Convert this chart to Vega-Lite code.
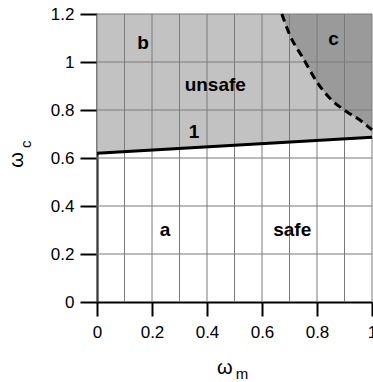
{
  "$schema": "https://vega.github.io/schema/vega-lite/v6.json",
  "width": 275,
  "height": 288,
  "autosize": {"type": "none"},
  "padding": {"left": 97, "top": 14, "right": 1, "bottom": 80},
  "background": "white",
  "config": {
    "view": {"stroke": null},
    "font": "Liberation Sans",
    "axis": {
      "grid": false, "domainColor": "black", "domainWidth": 2,
      "tickColor": "black", "tickWidth": 2,
      "labelFontSize": 17, "labelColor": "black", "labelOverlap": false
    }
  },
  "datasets": {
    "boundary": [
      {"wm": 0, "wc": 0.62},
      {"wm": 1, "wc": 0.686}
    ],
    "curve": [
      {"wm": 0.672, "wc": 1.2},
      {"wm": 0.702, "wc": 1.11},
      {"wm": 0.75, "wc": 1.015},
      {"wm": 0.799, "wc": 0.918},
      {"wm": 0.853, "wc": 0.842},
      {"wm": 0.908, "wc": 0.793},
      {"wm": 0.956, "wc": 0.758},
      {"wm": 1.0, "wc": 0.717}
    ],
    "gridx": [
      {"v": 0}, {"v": 0.1}, {"v": 0.2}, {"v": 0.3}, {"v": 0.4}, {"v": 0.5},
      {"v": 0.6}, {"v": 0.7}, {"v": 0.8}, {"v": 0.9}, {"v": 1.0}
    ],
    "gridy": [
      {"v": 0.2}, {"v": 0.4}, {"v": 0.6}, {"v": 0.8}, {"v": 1.0}, {"v": 1.2}
    ],
    "labels": [
      {"wm": 0.167, "wc": 1.08, "t": "b"},
      {"wm": 0.43, "wc": 0.905, "t": "unsafe"},
      {"wm": 0.353, "wc": 0.71, "t": "1"},
      {"wm": 0.86, "wc": 1.095, "t": "c"},
      {"wm": 0.247, "wc": 0.3, "t": "a"},
      {"wm": 0.71, "wc": 0.3, "t": "safe"}
    ]
  },
  "layer": [
    {
      "data": {"name": "boundary"},
      "mark": {"type": "area", "color": "#c2c2c2"},
      "encoding": {
        "x": {
          "field": "wm", "type": "quantitative", "title": null,
          "scale": {"domain": [0, 1], "nice": false, "zero": false},
          "axis": {
            "values": [0, 0.1, 0.2, 0.3, 0.4, 0.5, 0.6, 0.7, 0.8, 0.9, 1],
            "format": ".1~f",
            "labelExpr": "indexof(['0','0.2','0.4','0.6','0.8','1'], datum.label) >= 0 ? datum.label : ''",
            "tickSize": 14, "labelPadding": 8,
            "labelFlush": false, "labelBound": false
          }
        },
        "y": {
          "field": "wc", "type": "quantitative", "title": null,
          "scale": {"domain": [0, 1.2], "nice": false, "zero": false},
          "axis": {
            "values": [0, 0.2, 0.4, 0.6, 0.8, 1, 1.2],
            "format": ".1~f",
            "tickSize": 17, "labelPadding": 6
          }
        },
        "y2": {"datum": 1.2}
      }
    },
    {
      "data": {"name": "curve"},
      "mark": {"type": "area", "color": "#9a9a9a", "interpolate": "monotone"},
      "encoding": {
        "x": {"field": "wm", "type": "quantitative", "title": null},
        "y": {"field": "wc", "type": "quantitative", "title": null},
        "y2": {"datum": 1.2}
      }
    },
    {
      "data": {"name": "gridx"},
      "mark": {"type": "rule", "color": "#7a7a7a", "strokeWidth": 1},
      "encoding": {
        "x": {"field": "v", "type": "quantitative", "title": null}
      }
    },
    {
      "data": {"name": "gridy"},
      "mark": {"type": "rule", "color": "#7a7a7a", "strokeWidth": 1},
      "encoding": {
        "y": {"field": "v", "type": "quantitative", "title": null}
      }
    },
    {
      "data": {"name": "boundary"},
      "mark": {"type": "line", "color": "black", "strokeWidth": 3},
      "encoding": {
        "x": {"field": "wm", "type": "quantitative", "title": null},
        "y": {"field": "wc", "type": "quantitative", "title": null}
      }
    },
    {
      "data": {"name": "curve"},
      "mark": {"type": "line", "color": "black", "strokeWidth": 3, "strokeDash": [8, 5], "interpolate": "monotone"},
      "encoding": {
        "x": {"field": "wm", "type": "quantitative", "title": null},
        "y": {"field": "wc", "type": "quantitative", "title": null}
      }
    },
    {
      "data": {"name": "labels"},
      "mark": {"type": "text", "fontSize": 19, "fontWeight": "bold", "color": "black", "align": "center", "baseline": "middle"},
      "encoding": {
        "x": {"field": "wm", "type": "quantitative", "title": null},
        "y": {"field": "wc", "type": "quantitative", "title": null},
        "text": {"field": "t"}
      }
    },
    {
      "data": {"values": [
        {"wm": -0.291, "wc": 0.592, "t": "ω", "s": 20, "w": "normal"},
        {"wm": -0.258, "wc": 0.657, "t": "c", "s": 15, "w": "bold"}
      ]},
      "mark": {"type": "text", "angle": 270, "color": "black", "align": "center", "baseline": "middle"},
      "encoding": {
        "x": {"field": "wm", "type": "quantitative", "title": null},
        "y": {"field": "wc", "type": "quantitative", "title": null},
        "text": {"field": "t"},
        "size": {"field": "s", "type": "quantitative", "scale": null},
        "fontWeight": {"field": "w", "type": "nominal", "scale": null}
      }
    },
    {
      "data": {"values": [
        {"wm": 0.465, "wc": -0.273, "t": "ω", "s": 20, "w": "normal"},
        {"wm": 0.527, "wc": -0.302, "t": "m", "s": 15, "w": "bold"}
      ]},
      "mark": {"type": "text", "color": "black", "align": "center", "baseline": "middle"},
      "encoding": {
        "x": {"field": "wm", "type": "quantitative", "title": null},
        "y": {"field": "wc", "type": "quantitative", "title": null},
        "text": {"field": "t"},
        "size": {"field": "s", "type": "quantitative", "scale": null},
        "fontWeight": {"field": "w", "type": "nominal", "scale": null}
      }
    }
  ]
}
